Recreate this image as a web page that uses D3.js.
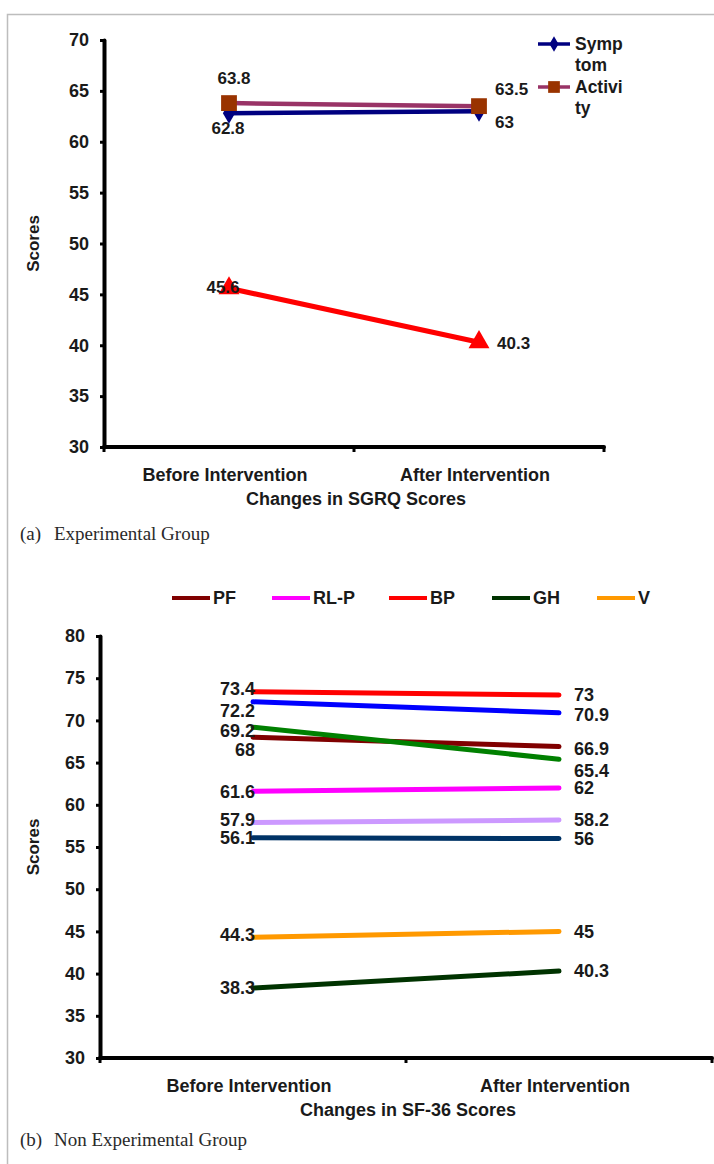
<!DOCTYPE html>
<html>
<head>
<meta charset="utf-8">
<script src="https://cdn.jsdelivr.net/npm/d3@7"></script>
<style>
body { margin: 0; background: #fff; }
text { font-family: "Liberation Sans", Arial, sans-serif; font-weight: bold; fill: #1a1a1a; }
.caption { font-family: "Liberation Serif", serif; font-weight: normal; fill: #2a2a2a; }
</style>
</head>
<body>
<svg id="fig" width="714" height="1164"></svg>
<script>
var categories = ['Before Intervention', 'After Intervention']

// (a) SGRQ scores, experimental group
var sgrqNames = ['Symptom', 'Activity', 'Impact']
var sgrqBefore = [62.8, 63.8, 45.6]
var sgrqAfter = [63, 63.5, 40.3]
var sgrqTicks = [30, 35, 40, 45, 50, 55, 60, 65, 70]
var sgrqLegend = [['Symp', 'tom'], ['Activi', 'ty']]

// (b) SF-36 scores, non experimental group
var sfNames = ['PF', 'RL-P', 'BP', 'GH', 'V', 'RL-E', 'SF', 'MH', 'HT']
var sfBefore = [68, 61.6, 73.4, 38.3, 44.3, 72.2, 69.2, 57.9, 56.1]
var sfAfter = [66.9, 62, 73, 40.3, 45, 70.9, 65.4, 58.2, 56]
var sfTicks = [30, 35, 40, 45, 50, 55, 60, 65, 70, 75, 80]
var sfLegend = ['PF', 'RL-P', 'BP', 'GH', 'V']

var sgrqColor = { 'Symptom': '#000080', 'Activity': '#993366', 'Impact': '#ff0000' }
var sgrqFill = { 'Symptom': '#000080', 'Activity': '#993300', 'Impact': '#ff0000' }
var sgrqSymbol = { 'Symptom': d3.symbolDiamond, 'Activity': d3.symbolSquare, 'Impact': d3.symbolTriangle }
var sgrqSymSize = { 'Symptom': 130, 'Activity': 250, 'Impact': 190 }

var sfColor = {
	'PF': '#800000', 'RL-P': '#ff00ff', 'BP': '#ff0000', 'GH': '#003300', 'V': '#ff9900',
	'RL-E': '#0000ff', 'SF': '#008000', 'MH': '#cc99ff', 'HT': '#003366'
}

// label nudges [dx, dy, anchor] for before / after points
var sgrqLabelPos = {
	'Symptom': [[-1, 15, 'middle'], [16, 11, 'start']],
	'Activity': [[5, -25, 'middle'], [16, -17, 'start']],
	'Impact': [[-6, -1, 'middle'], [18, 1, 'start']]
}
var sfLeftDy = { 'BP': -3, 'RL-E': 9, 'SF': 4, 'PF': 12, 'MH': -3, 'V': -3 }
var sfRightDy = { 'SF': 11, 'RL-E': 2, 'PF': 2 }

var svg = d3.select('#fig')

// page frame
svg.append('path')
	.attr('d', 'M7.5,1164 V14.5 H714')
	.attr('fill', 'none')
	.attr('stroke', '#bdbdbd')
	.attr('stroke-width', 1.5)

var drawAxes = function(g, x, y, ticks, xTitle, yTitleX) {

	var y0 = y.range()[0], y1 = y.range()[1]
	var x0 = x.range()[0], x1 = x.range()[1]

	var yAxis = g.append('g')
		.attr('transform', 'translate(' + x0 + ',0)')
		.call(d3.axisLeft(y).tickValues(ticks).tickSize(4).tickSizeOuter(0).tickPadding(11))
	yAxis.select('.domain').attr('stroke-width', 4).attr('stroke-linecap', 'round')
	yAxis.selectAll('.tick line').attr('stroke-width', 3)
	yAxis.selectAll('.tick text').attr('font-size', 18).attr('font-family', null).attr('fill', '#1a1a1a')

	var xAxis = g.append('g')
		.attr('transform', 'translate(0,' + y0 + ')')
	xAxis.append('line')
		.attr('x1', x0).attr('x2', x1)
		.attr('stroke', '#000').attr('stroke-width', 4).attr('stroke-linecap', 'round')
	var bounds = [x0].concat(categories.map(function(c) { return x(c) + x.bandwidth() }))
	xAxis.selectAll('.xtick')
		.data(bounds)
		.enter()
		.append('line')
		.attr('x1', function(d) { return d }).attr('x2', function(d) { return d })
		.attr('y1', 0).attr('y2', 5)
		.attr('stroke', '#000').attr('stroke-width', 3)
	xAxis.selectAll('.xlab')
		.data(categories)
		.enter()
		.append('text')
		.attr('x', function(d) { return x(d) + x.bandwidth() / 2 - 4 })
		.attr('y', 34)
		.attr('text-anchor', 'middle')
		.attr('font-size', 18)
		.text(function(d) { return d })
	xAxis.append('text')
		.attr('x', (x0 + x1) / 2 + 2)
		.attr('y', 58)
		.attr('text-anchor', 'middle')
		.attr('font-size', 18)
		.text(xTitle)

	g.append('text')
		.attr('transform', 'translate(' + yTitleX + ',' + ((y0 + y1) / 2) + ') rotate(-90)')
		.attr('text-anchor', 'middle')
		.attr('font-size', 17)
		.text('Scores')
}

// ---------- (a) ----------
var xa = d3.scaleBand().domain(categories).range([104, 604])
var ya = d3.scaleLinear().domain([30, 70]).range([447, 40])
var ga = svg.append('g')
drawAxes(ga, xa, ya, sgrqTicks, 'Changes in SGRQ Scores', 39)

var cx = function(x, i) { return x(categories[i]) + x.bandwidth() / 2 }

sgrqNames.forEach(function(name, k) {
	var vals = [sgrqBefore[k], sgrqAfter[k]]
	var s = ga.append('g').attr('class', 'series')
	s.append('path')
		.datum(vals)
		.attr('fill', 'none')
		.attr('stroke', sgrqColor[name])
		.attr('stroke-width', name == 'Impact' ? 5 : 4.5)
		.attr('d', d3.line().x(function(d, i) { return cx(xa, i) }).y(function(d) { return ya(d) }))
	s.selectAll('.mark')
		.data(vals)
		.enter()
		.append('path')
		.attr('transform', function(d, i) { return 'translate(' + cx(xa, i) + ',' + ya(d) + ')' })
		.attr('d', d3.symbol().type(sgrqSymbol[name]).size(sgrqSymSize[name]))
		.attr('fill', sgrqFill[name])
})

sgrqNames.forEach(function(name, k) {
	var vals = [sgrqBefore[k], sgrqAfter[k]]
	ga.selectAll('.lab-' + k)
		.data(vals)
		.enter()
		.append('text')
		.attr('x', function(d, i) { return cx(xa, i) + sgrqLabelPos[name][i][0] })
		.attr('y', function(d, i) { return ya(d) + sgrqLabelPos[name][i][1] })
		.attr('dy', '0.35em')
		.attr('text-anchor', function(d, i) { return sgrqLabelPos[name][i][2] })
		.attr('font-size', 17)
		.text(function(d) { return d })
})

// legend (a), text wrapped as in the source
var lga = ga.append('g').attr('transform', 'translate(538,44)')
sgrqLegend.forEach(function(lines, k) {
	var name = sgrqNames[k]
	var row = lga.append('g').attr('transform', 'translate(0,' + (k * 43) + ')')
	row.append('line')
		.attr('x1', 0).attr('x2', 32)
		.attr('stroke', sgrqColor[name]).attr('stroke-width', 3.5)
	row.append('path')
		.attr('transform', 'translate(16,0)')
		.attr('d', d3.symbol().type(sgrqSymbol[name]).size(sgrqSymSize[name] * 0.55))
		.attr('fill', sgrqFill[name])
	row.selectAll('text')
		.data(lines)
		.enter()
		.append('text')
		.attr('x', 37)
		.attr('y', function(d, i) { return i * 21 })
		.attr('dy', '0.35em')
		.attr('font-size', 17.5)
		.text(function(d) { return d })
})

ga.append('text')
	.attr('class', 'caption')
	.attr('x', 20).attr('y', 540)
	.attr('font-size', 19)
	.text('(a)')
ga.append('text')
	.attr('class', 'caption')
	.attr('x', 54).attr('y', 540)
	.attr('font-size', 19)
	.text('Experimental Group')

// ---------- (b) ----------
var xb = d3.scaleBand().domain(categories).range([100, 712])
var yb = d3.scaleLinear().domain([30, 80]).range([1058, 636])
var gb = svg.append('g')
drawAxes(gb, xb, yb, sfTicks, 'Changes in SF-36 Scores', 39)

var drawOrder = ['HT', 'MH', 'RL-P', 'PF', 'SF', 'RL-E', 'BP', 'V', 'GH']
drawOrder.forEach(function(name) {
	var k = sfNames.indexOf(name)
	var vals = [sfBefore[k], sfAfter[k]]
	gb.append('path')
		.datum(vals)
		.attr('fill', 'none')
		.attr('stroke', sfColor[name])
		.attr('stroke-width', 5)
		.attr('stroke-linecap', 'round')
		.attr('d', d3.line().x(function(d, i) { return cx(xb, i) }).y(function(d) { return yb(d) }))
})

sfNames.forEach(function(name, k) {
	gb.append('text')
		.attr('x', cx(xb, 0) + 2)
		.attr('y', yb(sfBefore[k]) + (sfLeftDy[name] || 0))
		.attr('dy', '0.35em')
		.attr('text-anchor', 'end')
		.attr('font-size', 18)
		.text(sfBefore[k])
	gb.append('text')
		.attr('x', cx(xb, 1) + 15)
		.attr('y', yb(sfAfter[k]) + (sfRightDy[name] || 0))
		.attr('dy', '0.35em')
		.attr('font-size', 18)
		.text(sfAfter[k])
})

var legendX = [172, 272, 389, 492, 597]
var lgb = gb.append('g').attr('transform', 'translate(0,598)')
sfLegend.forEach(function(name, i) {
	lgb.append('line')
		.attr('x1', legendX[i]).attr('x2', legendX[i] + 38)
		.attr('stroke', sfColor[name]).attr('stroke-width', 4)
	lgb.append('text')
		.attr('x', legendX[i] + 41)
		.attr('dy', '0.35em')
		.attr('font-size', 18)
		.text(name)
})

gb.append('text')
	.attr('class', 'caption')
	.attr('x', 20).attr('y', 1146)
	.attr('font-size', 19)
	.text('(b)')
gb.append('text')
	.attr('class', 'caption')
	.attr('x', 54).attr('y', 1146)
	.attr('font-size', 19)
	.text('Non Experimental Group')
</script>
</body>
</html>
